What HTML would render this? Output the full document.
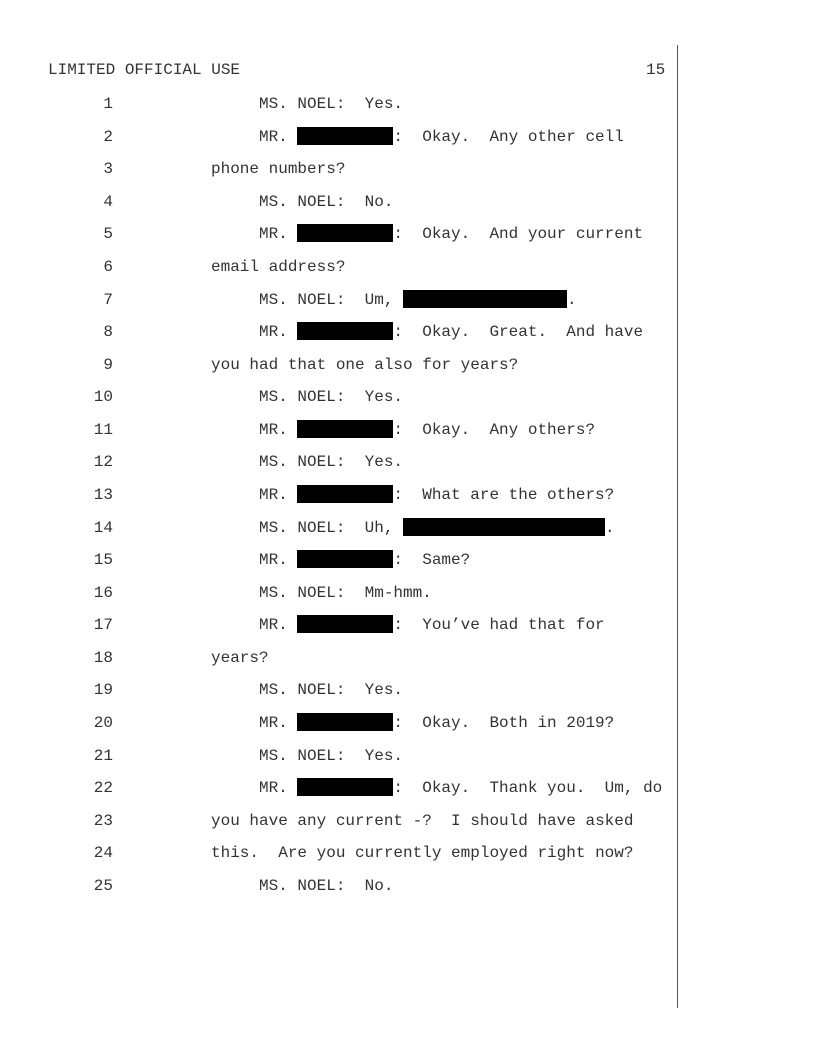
<!DOCTYPE html>
<html><head><meta charset="utf-8"><style>
html,body{margin:0;padding:0;background:#fff;}
body{width:816px;height:1056px;position:relative;overflow:hidden;font-family:"Liberation Mono",monospace;font-size:16px;color:#333;}
.l{position:absolute;left:0;height:20px;line-height:20px;white-space:pre;}
.n{position:absolute;width:113px;text-align:right;left:0;}
.t{position:absolute;left:211px;}
.r{display:inline-block;background:#000;height:18px;vertical-align:-4px;}
</style></head><body>
<div class="l" style="top:60px;left:48px">LIMITED OFFICIAL USE</div>
<div class="l" style="top:60px;left:646px">15</div>
<div style="position:absolute;left:677px;top:45px;width:1px;height:963px;background:#555"></div>

<div class="l" style="top:94px"><span class="n">1</span><span class="t">     MS. NOEL:  Yes.</span></div>
<div class="l" style="top:126.6px"><span class="n">2</span><span class="t">     MR. <span class="r" style="width:96px"></span>:  Okay.  Any other cell</span></div>
<div class="l" style="top:159.2px"><span class="n">3</span><span class="t">phone numbers?</span></div>
<div class="l" style="top:191.7px"><span class="n">4</span><span class="t">     MS. NOEL:  No.</span></div>
<div class="l" style="top:224.3px"><span class="n">5</span><span class="t">     MR. <span class="r" style="width:96px"></span>:  Okay.  And your current</span></div>
<div class="l" style="top:256.9px"><span class="n">6</span><span class="t">email address?</span></div>
<div class="l" style="top:289.5px"><span class="n">7</span><span class="t">     MS. NOEL:  Um, <span class="r" style="width:164px"></span>.</span></div>
<div class="l" style="top:322px"><span class="n">8</span><span class="t">     MR. <span class="r" style="width:96px"></span>:  Okay.  Great.  And have</span></div>
<div class="l" style="top:354.6px"><span class="n">9</span><span class="t">you had that one also for years?</span></div>
<div class="l" style="top:387.2px"><span class="n">10</span><span class="t">     MS. NOEL:  Yes.</span></div>
<div class="l" style="top:419.8px"><span class="n">11</span><span class="t">     MR. <span class="r" style="width:96px"></span>:  Okay.  Any others?</span></div>
<div class="l" style="top:452.3px"><span class="n">12</span><span class="t">     MS. NOEL:  Yes.</span></div>
<div class="l" style="top:484.9px"><span class="n">13</span><span class="t">     MR. <span class="r" style="width:96px"></span>:  What are the others?</span></div>
<div class="l" style="top:517.5px"><span class="n">14</span><span class="t">     MS. NOEL:  Uh, <span class="r" style="width:202px"></span>.</span></div>
<div class="l" style="top:550px"><span class="n">15</span><span class="t">     MR. <span class="r" style="width:96px"></span>:  Same?</span></div>
<div class="l" style="top:582.6px"><span class="n">16</span><span class="t">     MS. NOEL:  Mm-hmm.</span></div>
<div class="l" style="top:615.2px"><span class="n">17</span><span class="t">     MR. <span class="r" style="width:96px"></span>:  You’ve had that for</span></div>
<div class="l" style="top:647.8px"><span class="n">18</span><span class="t">years?</span></div>
<div class="l" style="top:680.3px"><span class="n">19</span><span class="t">     MS. NOEL:  Yes.</span></div>
<div class="l" style="top:712.9px"><span class="n">20</span><span class="t">     MR. <span class="r" style="width:96px"></span>:  Okay.  Both in 2019?</span></div>
<div class="l" style="top:745.5px"><span class="n">21</span><span class="t">     MS. NOEL:  Yes.</span></div>
<div class="l" style="top:778px"><span class="n">22</span><span class="t">     MR. <span class="r" style="width:96px"></span>:  Okay.  Thank you.  Um, do</span></div>
<div class="l" style="top:810.6px"><span class="n">23</span><span class="t">you have any current -?  I should have asked</span></div>
<div class="l" style="top:843.2px"><span class="n">24</span><span class="t">this.  Are you currently employed right now?</span></div>
<div class="l" style="top:875.8px"><span class="n">25</span><span class="t">     MS. NOEL:  No.</span></div>
</body></html>
